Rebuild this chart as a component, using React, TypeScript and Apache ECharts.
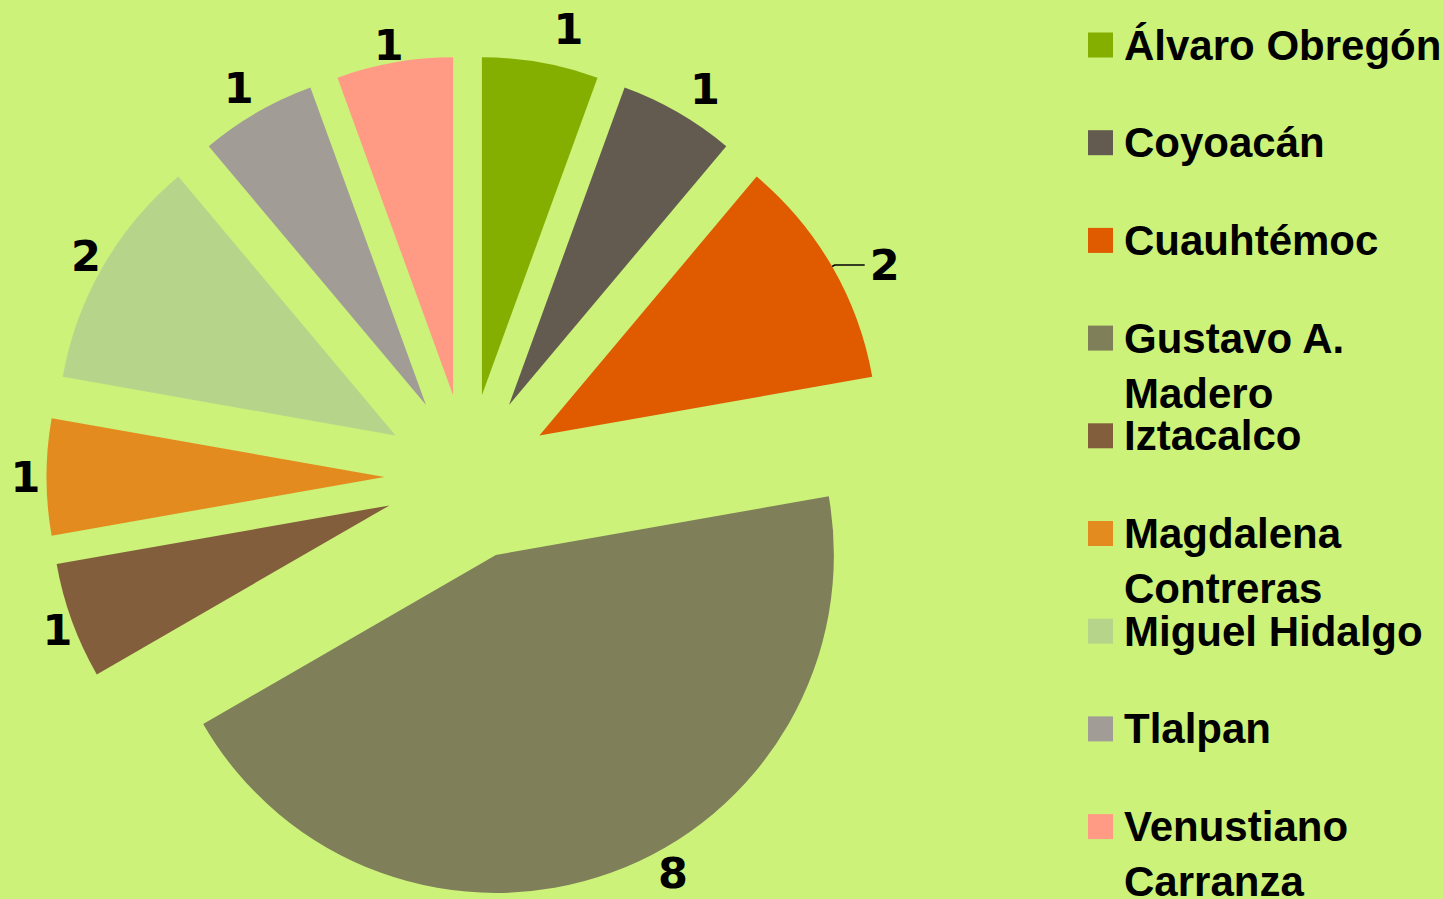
import React, { useEffect, useRef } from "react";
import * as echarts from "echarts";

const categories = [
  "Álvaro Obregón",
  "Coyoacán",
  "Cuauhtémoc",
  "Gustavo A. Madero",
  "Iztacalco",
  "Magdalena Contreras",
  "Miguel Hidalgo",
  "Tlalpan",
  "Venustiano Carranza",
];
const values = [1, 1, 2, 8, 1, 1, 2, 1, 1];
const legendText = [
  "Álvaro Obregón",
  "Coyoacán",
  "Cuauhtémoc",
  "Gustavo A.\nMadero",
  "Iztacalco",
  "Magdalena\nContreras",
  "Miguel Hidalgo",
  "Tlalpan",
  "Venustiano\nCarranza",
];
const palette = [
  "#84af00",
  "#635a50",
  "#e05a00",
  "#7f7f5a",
  "#835e3c",
  "#e38b1e",
  "#b6d58a",
  "#a19d96",
  "#ff9b85",
];

// label placement tuning (style, not data)
const lineLen = [34, 27, 3, 0, 25.5, 6, 22, 28, 18];
const lineLen2 = [7, -1.5, 30, 46.5, -24.6, 0, -17, -10.7, -12.5];
const showLine = [false, false, true, false, false, false, false, false, false];

export default function App() {
  const ref = useRef<HTMLDivElement>(null);
  useEffect(() => {
    if (!ref.current) return;
    const chart = echarts.init(ref.current, null, { renderer: "svg" });
    const data = categories.map((name, i) => ({
      name,
      value: values[i],
      selected: true,
      itemStyle: { color: palette[i] },
      label: { distanceToLabelLine: showLine[i] ? 5 : 0 },
      labelLine: {
        show: showLine[i],
        length: lineLen[i],
        length2: lineLen2[i],
      },
    }));
    const legends = categories.map((name, i) => {
      const lines = legendText[i].split("\n").length;
      const c = 45 + i * 97.7;
      return {
        show: true,
        orient: "vertical",
        left: 1088,
        top: lines > 1 ? c - 82.5 : c - 27.5,
        padding: 0,
        itemWidth: 25,
        itemHeight: 25,
        icon: "rect",
        selectedMode: false,
        data: [name],
        formatter: (n: string) => {
          const t = legendText[categories.indexOf(n)];
          return t.indexOf("\n") >= 0 ? "\n" + t : t;
        },
        textStyle: {
          fontFamily: "Liberation Sans",
          fontWeight: "bold",
          fontSize: 42,
          color: "#000",
          lineHeight: 55,
          padding: [0, 0, 0, 6],
        },
      };
    });
    chart.setOption({
      animation: false,
      backgroundColor: "#ccf27a",
      color: palette,
      legend: legends,
      series: [
        {
          type: "pie",
          center: [467.5, 477],
          radius: 338,
          startAngle: 90,
          clockwise: true,
          selectedMode: "multiple",
          selectedOffset: 83,
          avoidLabelOverlap: false,
          itemStyle: { borderWidth: 0 },
          emphasis: { disabled: true },
          select: { itemStyle: { borderWidth: 0 } },
          label: {
            show: true,
            position: "outside",
            formatter: "{c}",
            fontFamily: "DejaVu Sans",
            fontWeight: "bold",
            fontSize: 43,
            color: "#000",
          },
          labelLine: {
            lineStyle: { color: "#000", width: 1.5 },
          },
          data,
        },
      ],
    });
    return () => chart.dispose();
  }, []);
  return (
    <div
      ref={ref}
      style={{ position: "fixed", left: 0, top: 0, width: 1443, height: 899 }}
    />
  );
}
